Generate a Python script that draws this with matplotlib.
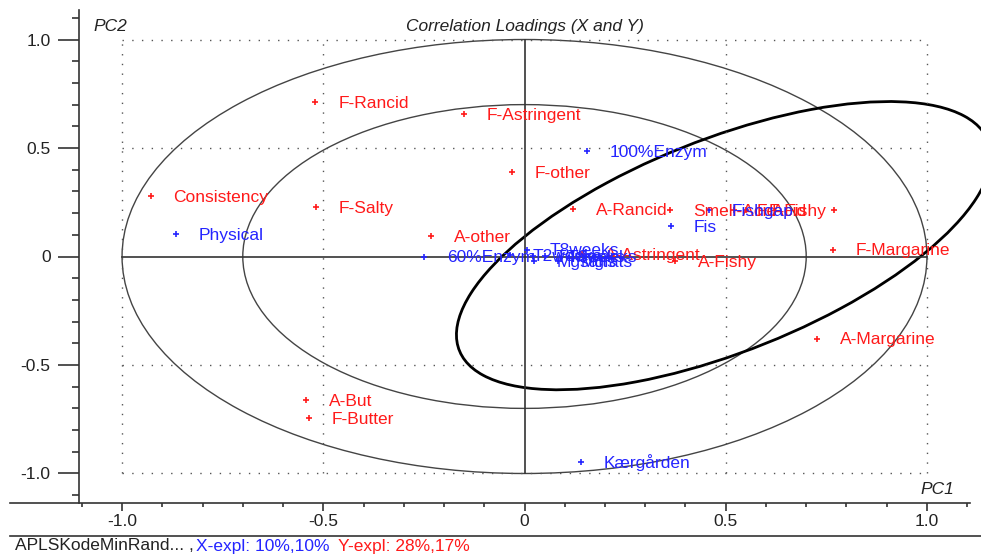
import matplotlib
matplotlib.use('Agg')
import matplotlib.pyplot as plt
from matplotlib.patches import Ellipse
from matplotlib.lines import Line2D
from matplotlib.ticker import MultipleLocator, FixedFormatter, FixedLocator

plt.rcParams['font.family'] = ['Liberation Sans', 'DejaVu Sans']

# Y variables (red)
y_names = ['F-Rancid', 'F-Astringent', 'F-other', 'Consistency', 'F-Salty', 'A-Rancid',
           'A-other', 'Smell-Acid', 'F-Acid', 'F-Fishy', '', 'F-Margarine',
           'A-Astringent', 'A-Fishy', 'A-Margarine', 'A-But', 'F-Butter']
y_pc1 = [-0.520, -0.150, -0.031, -0.929, -0.518, 0.120,
         -0.232, 0.362, 0.520, 0.550, 0.770, 0.766,
         0.143, 0.374, 0.727, -0.543, -0.535]
y_pc2 = [0.713, 0.658, 0.388, 0.278, 0.229, 0.218,
         0.094, 0.215, 0.214, 0.213, 0.215, 0.032,
         0.010, -0.023, -0.378, -0.662, -0.743]

# X variables (blue)
x_names = ['100%Enzym', 'Physical', 'Fis', 'Fishgap', '60%Enzym', 'T8weeks', 'T2weeks',
           'T4weeks', 'T6weeks', 'Mgsalts', 'Mgfats', 'Kærgården']
x_pc1 = [0.155, -0.866, 0.364, 0.458, -0.250, 0.006, -0.036,
         0.020, 0.050, 0.024, 0.083, 0.140]
x_pc2 = [0.484, 0.105, 0.140, 0.212, 0.000, 0.032, 0.005,
         0.002, 0.003, -0.020, -0.022, -0.945]

ticks = [-1.0, -0.5, 0, 0.5, 1.0]
tick_labels = ['-1.0', '-0.5', '0', '0.5', '1.0']

red = '#ff1a1a'
blue = '#2424ff'
fs = 12.5

fig = plt.figure(figsize=(9.81, 5.57), dpi=100)
ax = fig.add_axes([79/981, (557-503)/557, (970-79)/981, (503-10)/557])
ax.set_xlim(-1.107, 1.107)
ax.set_ylim(-1.136, 1.136)

# dotted grid inside the unit square
for t in ticks:
    if t == 0:
        continue
    ax.plot([t, t], [-1, 1], color='#555555', lw=1, ls=(0, (1, 6)))
    ax.plot([-1, 1], [t, t], color='#555555', lw=1, ls=(0, (1, 6)))
ax.plot([0, 0], [-1, 1], color='#333333', lw=1.2)
ax.plot([-1, 1], [0, 0], color='#333333', lw=1.2)

# correlation circles
ax.add_patch(Ellipse((0, 0), 2.0, 2.0, fill=False, ec='#444444', lw=1))
ax.add_patch(Ellipse((0, 0), 1.4, 1.4, fill=False, ec='#444444', lw=1))
ax.add_patch(Ellipse((0.495, 0.05), 1.69, 0.82, angle=45, fill=False,
                     ec='black', lw=2, clip_on=False))

ax.plot(y_pc1, y_pc2, ls='none', marker='+', ms=4, mew=1.2, color=red)
for n, px, py in zip(y_names, y_pc1, y_pc2):
    ax.annotate(n, (px, py), xytext=(16.5, -1), textcoords='offset points',
                va='center', ha='left', color=red, fontsize=fs)
ax.plot(x_pc1, x_pc2, ls='none', marker='+', ms=4, mew=1.2, color=blue)
for n, px, py in zip(x_names, x_pc1, x_pc2):
    ax.annotate(n, (px, py), xytext=(16.5, -1), textcoords='offset points',
                va='center', ha='left', color=blue, fontsize=fs)

ax.text(0, 1.06, 'Correlation Loadings (X and Y)', ha='center', va='center',
        style='italic', fontsize=fs, color='#222222')
ax.text(-1.03, 1.06, 'PC2', ha='center', va='center', style='italic',
        fontsize=fs, color='#222222')
ax.text(1.025, -1.074, 'PC1', ha='center', va='center', style='italic',
        fontsize=fs, color='#222222')

# axes look
for s in ['top', 'right', 'bottom']:
    ax.spines[s].set_visible(False)
ax.spines['left'].set_color('#333333')
ax.spines['left'].set_linewidth(1.2)
ax.xaxis.set_major_locator(FixedLocator(ticks))
ax.xaxis.set_major_formatter(FixedFormatter(tick_labels))
ax.yaxis.set_major_locator(FixedLocator(ticks))
ax.yaxis.set_major_formatter(FixedFormatter(tick_labels))
ax.xaxis.set_minor_locator(MultipleLocator(0.1))
ax.yaxis.set_minor_locator(MultipleLocator(0.1))
ax.tick_params(axis='y', which='major', length=15, width=1.2, pad=5.5,
               labelsize=fs, color='#333333', labelcolor='#222222')
ax.tick_params(axis='y', which='minor', length=5, width=1.2, color='#333333')
ax.tick_params(axis='x', which='major', length=6, width=1.2, pad=2,
               labelsize=fs, color='#333333', labelcolor='#222222')
ax.tick_params(axis='x', which='minor', length=3, width=1.2, color='#333333')

# bottom frame line and footer separator
fig.add_artist(Line2D([10/981, 970/981], [(557-503)/557]*2, color='#333333', lw=1.2))
fig.add_artist(Line2D([10/981, 1.0], [(557-536)/557]*2, color='#333333', lw=1.2))

fy = (557-546)/557
fig.text(15/981, fy, 'APLSKodeMinRand... ,', color='#222222', fontsize=fs, va='center')
fig.text(196/981, fy, 'X-expl: 10%,10%', color=blue, fontsize=fs, va='center')
fig.text(338/981, fy, 'Y-expl: 28%,17%', color=red, fontsize=fs, va='center')

fig.savefig('out.png', dpi=100, facecolor='white')
